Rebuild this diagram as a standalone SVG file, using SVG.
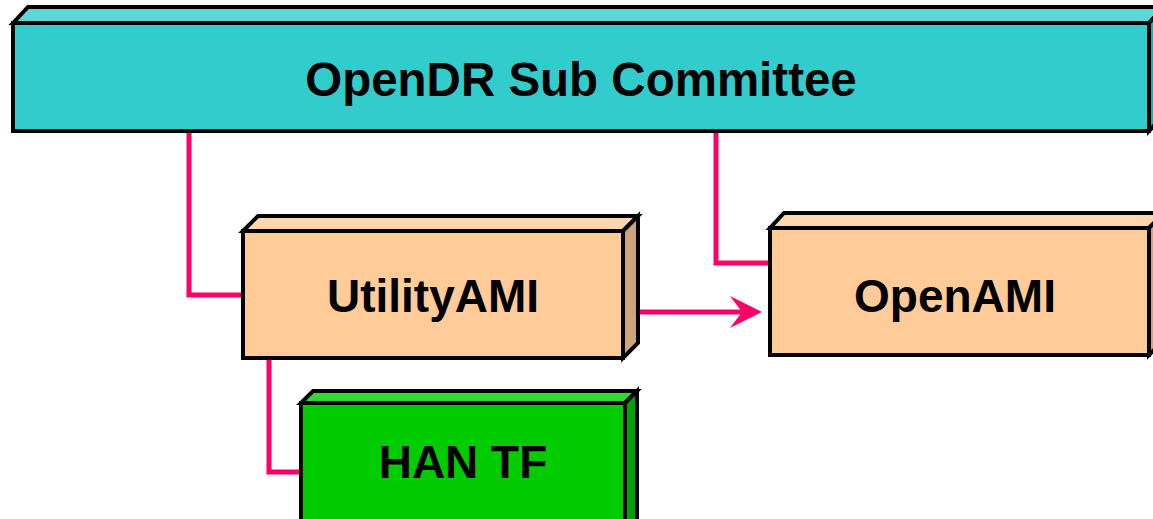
<svg xmlns="http://www.w3.org/2000/svg" width="1153" height="519" viewBox="0 0 1153 519">
  <style>
    .edge { stroke: #000; stroke-width: 4; stroke-linejoin: miter; }
    .label { font-family: "Liberation Sans", Arial, sans-serif; font-weight: bold; font-size: 46px; fill: #000; text-anchor: middle; }
    .conn { fill: none; stroke: #FF0066; stroke-width: 5; }
    .cyanF { fill: #33CCCC; } .cyanT { fill: #5CD6D6; } .cyanS { fill: #29A8A8; }
    .peachF { fill: #FFCC99; } .peachT { fill: #FFD6AD; } .peachS { fill: #CCA37A; }
    .greenF { fill: #00CC00; } .greenT { fill: #33D633; } .greenS { fill: #00A300; }
  </style>
  <defs>
    <marker id="arrow" markerUnits="userSpaceOnUse" markerWidth="34" markerHeight="34" refX="20" refY="16" orient="auto">
      <path d="M0,0 L32,16 L0,32 L12,16 z" fill="#FF0066"/>
    </marker>
  </defs>
  <rect width="1153" height="519" fill="#FFFFFF"/>

  <g id="connectors">
    <path class="conn" d="M189,133 V295 H243"/>
    <path class="conn" d="M716,133 V263 H770"/>
    <path class="conn" d="M269,358 V472 H301"/>
    <path class="conn" d="M638,312 H750" marker-end="url(#arrow)"/>
  </g>

  <g id="opendr-sub-committee">
    <polygon class="edge cyanT" points="13,23 28,7 1164,7 1149,23"/>
    <polygon class="edge cyanS" points="1149,23 1164,7 1164,115 1149,131"/>
    <rect class="edge cyanF" x="13" y="23" width="1136" height="108"/>
    <text class="label" x="581" y="96" style="font-size:47.5px">OpenDR Sub Committee</text>
  </g>

  <g id="utilityami">
    <polygon class="edge peachT" points="243,231 258,216 638,216 623,231"/>
    <polygon class="edge peachS" points="623,231 638,216 638,343 623,358"/>
    <rect class="edge peachF" x="243" y="231" width="380" height="127"/>
    <text class="label" x="433" y="312">UtilityAMI</text>
  </g>

  <g id="openami">
    <polygon class="edge peachT" points="770,228 784,213 1164,213 1149,228"/>
    <polygon class="edge peachS" points="1149,228 1164,213 1164,340 1149,355"/>
    <rect class="edge peachF" x="770" y="228" width="379" height="127"/>
    <text class="label" x="955" y="312">OpenAMI</text>
  </g>

  <g id="han-tf">
    <polygon class="edge greenT" points="301,403 313,391 637,391 625,403"/>
    <polygon class="edge greenS" points="625,403 637,391 637,525 625,537"/>
    <rect class="edge greenF" x="301" y="403" width="324" height="130"/>
    <text class="label" x="463" y="478">HAN TF</text>
  </g>
</svg>
